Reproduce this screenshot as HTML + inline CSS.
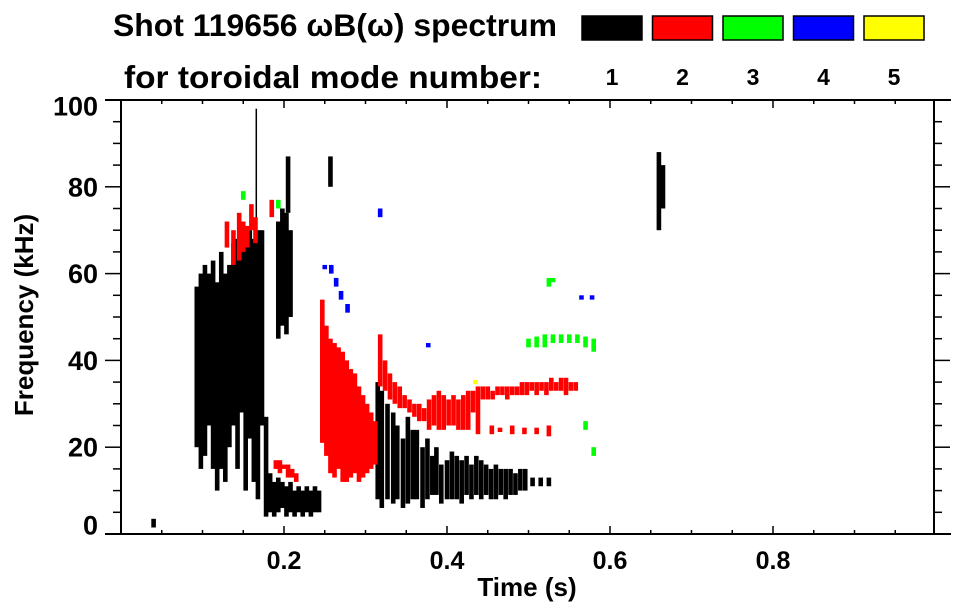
<!DOCTYPE html>
<html><head><meta charset="utf-8">
<style>
html,body{margin:0;padding:0;background:#fff;}
svg{display:block;font-family:"Liberation Sans",Arial,sans-serif;font-weight:bold;}
</style></head>
<body>
<svg id="chart" width="963" height="615" viewBox="0 0 963 615">
  <text x="113" y="36" font-size="31.5" textLength="444" lengthAdjust="spacingAndGlyphs">Shot 119656 ωB(ω) spectrum</text>
  <text x="124" y="88" font-size="31.5" textLength="418" lengthAdjust="spacingAndGlyphs">for toroidal mode number:</text>
  <g id="legend"></g>
  <g id="axes"></g>
  <g id="marks"></g>
  <text x="527" y="596" font-size="26" text-anchor="middle">Time (s)</text>
  <text transform="translate(33,315) rotate(-90)" font-size="26" text-anchor="middle">Frequency (kHz)</text>
</svg>
<script>
const modeNames = ['1','2','3','4','5'];
const modeColors = ['#000000','#ff0000','#00ff00','#0000ff','#ffff00'];
const xTicks = [0.2,0.4,0.6,0.8];
const xTickLabels = ['0.2','0.4','0.6','0.8'];
const yTicks = [0,20,40,60,80,100];
const yTickLabels = ['0','20','40','60','80','100'];

const m1T  = [.040,.093,.098,.103,.108,.113,.118,.123,.128,.133,.138,.143,.148,.153,.158,.163,.168,.173,.178,.183,.188,.193,.198,.203,.208,.213,.218,.223,.228,.233,.238,.243,.193,.198,.203,.208,.166,.205,.257,.315,.320,.327,.334,.339,.346,.352,.358,.363,.370,.376,.382,.387,.393,.400,.406,.412,.418,.424,.430,.436,.442,.448,.454,.460,.466,.472,.478,.484,.490,.496,.505,.515,.525,.660,.665];
const m1Lo = [1.5,20,15,18,25,15,10,15,12,20,25,15,28,10,22,12,8,25,4,5,4,5,6,4,5,4,5,4,5,4,5,5,45,48,46,50,70,74,80,8,6,8,7,8,6,7,8,8,6,8,9,9,7,8,8,8,7,9,8,9,8,9,8,8,9,8,9,9,10,10,11,11,11,70,75];
const m1Hi = [3.5,57,60,62,60,63,58,65,60,62,67,68,70,70,70,68,70,70,27,14,12,13,12,11,12,10,11,10,11,10,11,10,72,75,74,70,98,87,87,35,33,30,28,25,22,27,24,24,20,22,18,20,16,17,19,18,17,18,16,18,17,16,15,16,15,15,15,14,15,15,13,13,13,88,85];

const m2T  = [.130,.138,.145,.150,.155,.160,.165,.185,.190,.195,.200,.205,.210,.215,.247,.252,.257,.262,.267,.272,.277,.282,.287,.292,.297,.302,.307,.312,.318,.324,.330,.336,.342,.348,.354,.360,.366,.372,.378,.384,.390,.396,.402,.408,.414,.420,.426,.432,.438,.444,.450,.456,.462,.468,.474,.480,.486,.492,.498,.504,.510,.516,.522,.528,.534,.540,.546,.552,.558,.455,.465,.480,.495,.510,.525];
const m2Lo = [66,62,63,65,66,70,67,73,15,14,15,13,13,12,21,18,14,13,15,12,12,13,14,12,13,14,15,16,34,33,31,30,29,29,28,27,26,26,24,25,24,24,25,25,24,24,24,28,23,31,31,31,32,32,31,32,32,32,32,33,32,33,32,33,33,33,32,33,33,23,23.5,23,23,23,22.5];
const m2Hi = [72,70,74,72,71,76,73,77,17,17,16,16,15,14,54,48,45,44,43,42,40,38,37,34,32,30,28,26,46,40,37,35,34,32,31,30,30,29,31,32,33,32,31,32,31,32,33,33,34,34,34,33,34,34,34,34,34,35,35,35,35,35,35,36,35,36,36,35,35,25,24.5,25,24.5,24.5,25];

const m3T  = [.150,.193,.500,.510,.520,.530,.540,.550,.560,.570,.580,.525,.530,.570,.580];
const m3Lo = [77,75,43,43,43,44,44,44,44,43,42,57,58,24,18];
const m3Hi = [79,77,45,45.5,46,46,46,46,46,45.5,45,59,59,26,20];

const m4T  = [.250,.258,.264,.270,.278,.318,.377,.565,.578];
const m4Lo = [61,60,57,54,51,73,43,54,54];
const m4Hi = [62,62,59,56,53,75,44,55,55];

const m5T  = [.435];
const m5Lo = [34.5];
const m5Hi = [35.5];

const X0=121, X1=936, Y0=534, Y1=100;
function xs(t){return X0 + t*(X1-X0);}
function ys(f){return Y0 - f/100*(Y0-Y1);}
const NS='http://www.w3.org/2000/svg';
function mk(tag, attrs, parent){const e=document.createElementNS(NS,tag);for(const k in attrs)e.setAttribute(k,attrs[k]);parent.appendChild(e);return e;}

const axes=document.getElementById('axes');
const L=121, R=934;
let ln;
ln=mk('line',{x1:105,y1:Y0,x2:951,y2:Y0,stroke:'#000','stroke-width':2},axes);


ln=mk('line',{x1:105,y1:Y1,x2:951,y2:Y1,stroke:'#000','stroke-width':2},axes);


ln=mk('line',{x1:L,y1:Y1,x2:L,y2:Y0,stroke:'#000','stroke-width':2},axes);


ln=mk('line',{x1:R,y1:Y1,x2:R,y2:Y0,stroke:'#000','stroke-width':2},axes);



for(let i=1;i<20;i++){
  const t=i*0.05, x=xs(t), major=(i%4===0);
  const len=major?8:4;
  const a=mk('line',{x1:x,y1:Y0,x2:x,y2:Y0-len,stroke:'#000','stroke-width':1.5},axes);
  
  
  const b=mk('line',{x1:x,y1:Y1,x2:x,y2:Y1+len,stroke:'#000','stroke-width':1.5},axes);
  
  
}
xTicks.forEach((t,i)=>{
  const tx=mk('text',{x:xs(t),y:569,'font-size':25,'text-anchor':'middle'},axes);
  tx.textContent=xTickLabels[i];
  
  
});
for(let i=1;i<20;i++){
  const y=ys(i*5), major=(i%4===0), len=major?16:8;
  const a=mk('line',{x1:L-len,y1:y,x2:L,y2:y,stroke:'#000','stroke-width':1.5},axes);
  
  
  const b=mk('line',{x1:R,y1:y,x2:R+len,y2:y,stroke:'#000','stroke-width':1.5},axes);
  
  
}
yTicks.forEach((f,i)=>{
  let cy=ys(f);
  if(f===0) cy-=9;
  if(f===100) cy+=6;
  const tx=mk('text',{x:98,y:cy+9.5,'font-size':27,'text-anchor':'end'},axes);
  tx.textContent=yTickLabels[i];
  
  
});

const leg=document.getElementById('legend');
modeNames.forEach((n,i)=>{
  const x=582+i*70.5;
  const r=mk('rect',{x:x,y:16,width:60,height:24,fill:modeColors[i],stroke:'#000','stroke-width':1.5},leg);
  
  
  const t=mk('text',{x:x+30,y:85,'font-size':23,'text-anchor':'middle'},leg);
  t.textContent=n;
  
  
});

const marks=document.getElementById('marks');
const series=[[m1T,m1Lo,m1Hi],[m2T,m2Lo,m2Hi],[m3T,m3Lo,m3Hi],[m4T,m4Lo,m4Hi],[m5T,m5Lo,m5Hi]];
series.forEach((s,k)=>{
  const g=mk('g',{fill:modeColors[k]},marks);
  
  
  s[0].forEach((t,i)=>{
    const x=xs(t), yT=ys(s[2][i]), yB=ys(s[1][i]);
    const w=(k===0&&(s[2][i]-s[1][i]>25)&&t>0.16&&t<0.21&&s[1][i]>60)?1.5:4.6;
    const r=mk('rect',{x:x-w/2,y:yT,width:w,height:Math.max(1.5,yB-yT)},g);
    
    
  });
});
</script>
</body></html>
